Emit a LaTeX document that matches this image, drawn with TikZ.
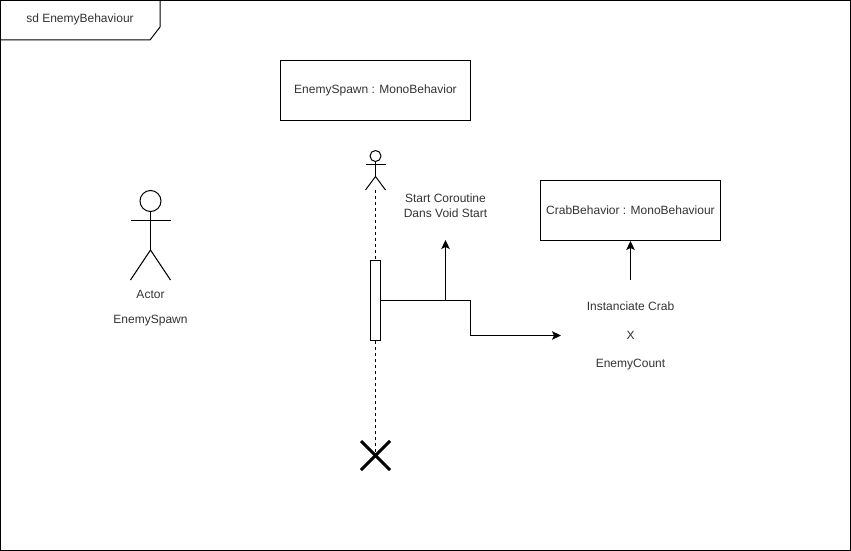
\documentclass[tikz,border=0pt]{standalone}
\usepackage{fontspec}
\setmainfont{Liberation Sans}
\usetikzlibrary{arrows.meta}
\tikzstyle{classbox}=[draw,rectangle,inner sep=0pt,fill=white]
\tikzstyle{activation}=[draw,rectangle,minimum width=10pt,minimum height=80pt,inner sep=0pt,fill=white]
\tikzstyle{label}=[inner sep=0pt,align=center,text=black!80,font=\fontsize{12}{15}\selectfont]

\begin{document}
\begin{tikzpicture}[x=1pt,y=-1pt,line width=1pt]
	\begin{scope}[>={Stealth[length=9pt,width=8.5pt,inset=2pt]}]
		\useasboundingbox (0,0) rectangle (851,551);
		% frame
		\draw (0.5,0.5) rectangle (850,550);
		\draw (0.5,40) -- (150,40) -- (160,27) -- (160,0.5);
		\node (frameLabel)[label] at (80,19.5) {sd EnemyBehaviour};

		% boxes
		\node (spawnBox)[classbox,minimum width=190pt,minimum height=60pt] at (375.5,90.5) {};
		\node (spawnText)[label] at (375.5,90) {EnemySpawn : MonoBehavior};
		\node (crabBox)[classbox,minimum width=180pt,minimum height=60pt] at (630.5,210.5) {};
		\node (crabText)[label] at (630.5,210) {CrabBehavior : MonoBehaviour};

		% big actor
		\node (bigHead)[draw,circle,minimum size=21pt,inner sep=0pt] at (150.5,201) {};
		\coordinate (bigHip) at (150.5,250);
		\draw (bigHead.south) -- (bigHip);
		\draw (130.5,220.5) -- (170.5,220.5);
		\draw (130.5,280) -- (bigHip) -- (170.5,280);
		\node (actorText)[label] at (150.5,294) {Actor};
		\node (nameText)[label] at (150.5,321) {EnemySpawn};

		% small actor
		\node (smallHead)[draw,circle,minimum size=11pt,inner sep=0pt] at (375.5,156) {};
		\coordinate (smallHip) at (375.5,176.5);
		\coordinate (smallFoot) at (375.5,190);
		\draw (smallHead.south) -- (smallHip);
		\draw (365.5,164.5) -- (385.5,164.5);
		\draw (365.5,190) -- (smallHip) -- (385.5,190);

		% lifeline
		\node (bar)[activation] at (375.5,300.5) {};
		\coordinate (endCross) at (375.5,455.5);
		\draw[dashed,dash pattern=on 3pt off 3pt] (smallFoot) -- (bar.north);
		\draw[dashed,dash pattern=on 3pt off 3pt] (bar.south) -- (endCross);
		\draw[line width=3pt] (361,441) -- (390,470);
		\draw[line width=3pt] (361,470) -- (390,441);

		% messages
		\coordinate (split) at (445.5,300.5);
		\coordinate (bend) at (470.5,300.5);
		\coordinate (startEnd) at (445.5,240);
		\coordinate (lowBend) at (470.5,335.5);
		\coordinate (instEnd) at (561,335.5);
		\coordinate (crabFrom) at (630.5,280);
		\draw (bar.east |- split) -- (bend) -- (lowBend);
		\draw[->] (lowBend) -- (instEnd);
		\draw[->] (split) -- (startEnd);
		\draw[->] (crabFrom) -- (crabBox.south);

		\node (startText)[label] at (445.5,205.5) {Start Coroutine\\Dans Void Start};
		\node (instText)[label] at (630.5,306.5) {Instanciate Crab};
		\node (xText)[label] at (630.5,335) {X};
		\node (countText)[label] at (630.5,364.5) {EnemyCount};
	\end{scope}
\end{tikzpicture}
\end{document}
